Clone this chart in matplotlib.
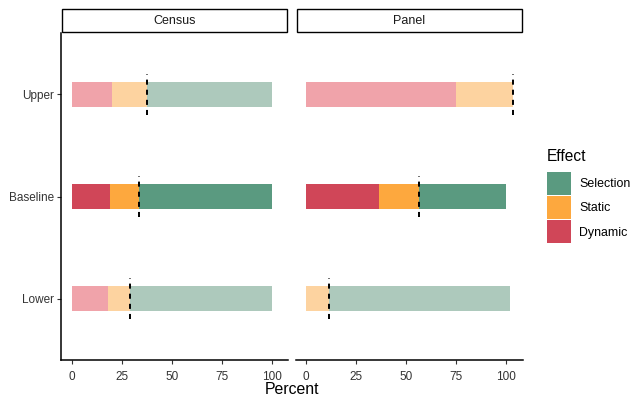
import matplotlib
matplotlib.use("Agg")
import matplotlib.pyplot as plt
from matplotlib.patches import Rectangle, Patch
import numpy as np

plt.rcParams['font.family'] = ['Liberation Sans', 'DejaVu Sans']

categories = ["Upper", "Baseline", "Lower"]
panels = ["Census", "Panel"]
effects = ["Dynamic", "Static", "Selection"]
legend_order = ["Selection", "Static", "Dynamic"]

census_dynamic = [20.3, 19.3, 18.3]
census_static = [17.2, 14.2, 11.0]
census_selection = [62.5, 66.5, 70.7]
census_cutoff = [37.5, 33.5, 29.3]

panel_dynamic = [75.0, 36.5, 0.0]
panel_static = [28.2, 19.8, 11.3]
panel_selection = [0.0, 43.7, 90.5]
panel_cutoff = [103.2, 56.3, 11.3]

x_ticks = [0, 25, 50, 75, 100]

colors = {"Selection": "#5A9A80", "Static": "#FDA83E", "Dynamic": "#D04658"}
light_colors = {"Selection": "#ADC9BC", "Static": "#FDD3A0", "Dynamic": "#F0A3AA"}
is_baseline = {"Upper": False, "Baseline": True, "Lower": False}

data = {
    "Census": {"Dynamic": census_dynamic, "Static": census_static,
               "Selection": census_selection, "cut": census_cutoff},
    "Panel": {"Dynamic": panel_dynamic, "Static": panel_static,
              "Selection": panel_selection, "cut": panel_cutoff},
}

W, H = 630, 399
fig = plt.figure(figsize=(W / 100, H / 100), dpi=100)

def px_axes(l, r, t, b):
    return fig.add_axes([l / W, 1 - b / H, (r - l) / W, (b - t) / H])

ax_c = px_axes(61.4, 288.0, 33, 360)
ax_p = px_axes(296.0, 522.6, 33, 360)
axes = {"Census": ax_c, "Panel": ax_p}

ypos = {c: 3 - i for i, c in enumerate(categories)}
bar_h = 0.25

for pname, ax in axes.items():
    d = data[pname]
    for i, cat in enumerate(categories):
        left = 0.0
        pal = colors if is_baseline[cat] else light_colors
        for eff in effects:
            v = d[eff][i]
            if v > 0:
                ax.barh(ypos[cat], v, left=left, height=bar_h,
                        color=pal[eff], linewidth=0)
            left += v
        ax.vlines(d["cut"][i], ypos[cat] - 0.2, ypos[cat] + 0.2,
                  colors="black", linewidth=1.4, linestyles=(0, (2.6, 2.6)))
    ax.set_xlim(-5.15, 108.15)
    ax.set_ylim(0.4, 3.6)
    ax.set_xticks(x_ticks)
    ax.set_xticklabels([str(t) for t in x_ticks])
    for s in ["top", "right"]:
        ax.spines[s].set_visible(False)
    ax.spines["bottom"].set_linewidth(1.1)
    ax.spines["left"].set_linewidth(1.1)
    ax.tick_params(axis="x", length=2.6, width=0.8, color="#333333",
                   labelsize=8.5, labelcolor="#333333", pad=5)
    ax.tick_params(axis="y", length=2.6, width=0.8, color="#333333",
                   labelsize=8.5, labelcolor="#333333", pad=2.5)
    # strip
    ax.add_patch(Rectangle((0.003, 1 + 1.0 / 327), 0.994, 23.0 / 327,
                           transform=ax.transAxes, clip_on=False,
                           facecolor="white", edgecolor="black", linewidth=1.0))
    ax.text(0.5, 1 + 11.5 / 327, pname, transform=ax.transAxes,
            ha="center", va="center", fontsize=9, color="#1A1A1A")

ax_c.set_yticks([ypos[c] for c in categories])
ax_c.set_yticklabels(categories)
ax_p.set_yticks([])
ax_p.spines["left"].set_visible(False)

fig.text(291.5 / W, 1 - 389 / H, "Percent", ha="center", va="center",
         fontsize=11.4, color="black")

fig.text(547 / W, 1 - 156.5 / H, "Effect", ha="left", va="center",
         fontsize=11.2, color="black")

handles = [Patch(facecolor=colors[e], edgecolor="none") for e in legend_order]
leg = fig.legend(handles, legend_order,
                 loc="upper left", bbox_to_anchor=(547.3 / W, 1 - 171.7 / H),
                 frameon=False, fontsize=8.9,
                 handlelength=1.88, handleheight=2.47, labelspacing=0.12,
                 handletextpad=0.7, borderpad=0, borderaxespad=0,
                 alignment="left")

fig.savefig("out.png", dpi=100)
